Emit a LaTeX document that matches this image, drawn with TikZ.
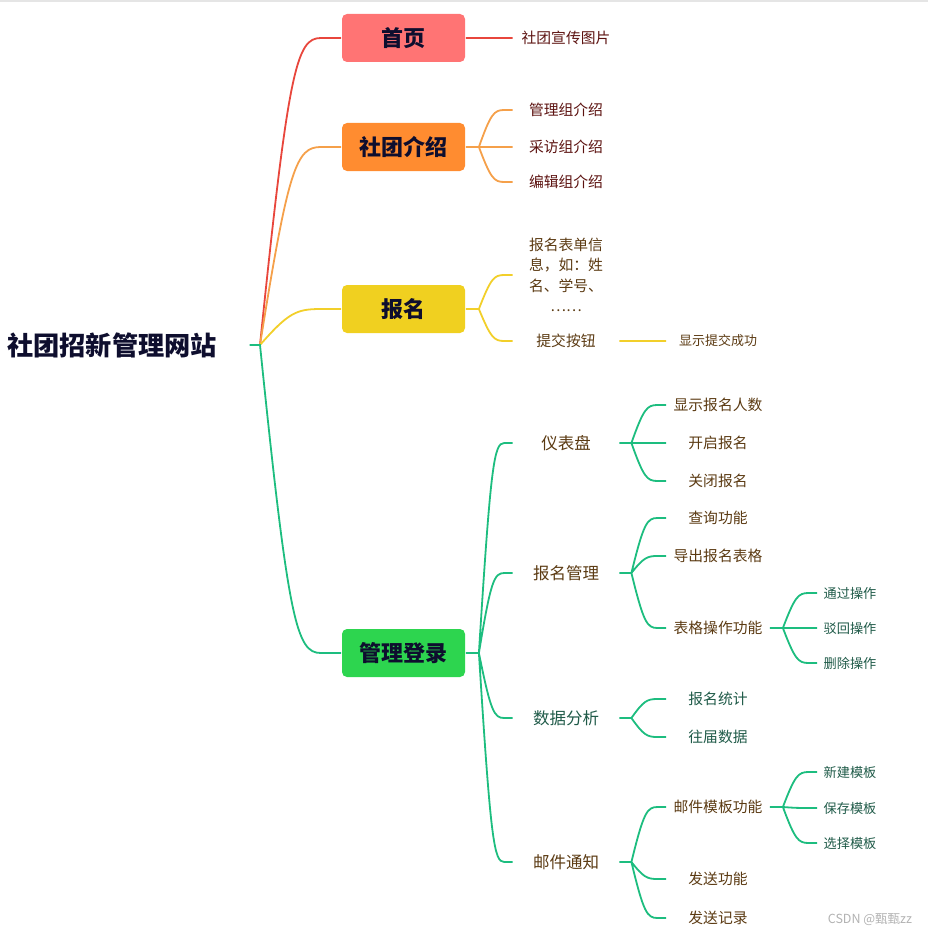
\documentclass[tikz,border=0pt]{standalone}
\usepackage{fontspec}
\setmainfont{Noto Sans CJK SC}
\usetikzlibrary{calc}
\definecolor{redline}{HTML}{E8463C}
\definecolor{homefill}{HTML}{FF7474}
\definecolor{orangeline}{HTML}{F5A04A}
\definecolor{introfill}{HTML}{FF8C30}
\definecolor{yellowline}{HTML}{F2CF2A}
\definecolor{signfill}{HTML}{F0D020}
\definecolor{greenline}{HTML}{1DBD7F}
\definecolor{adminfill}{HTML}{2DD54F}
\definecolor{ink}{HTML}{0E0E2E}
\definecolor{maroon}{HTML}{5C1210}
\definecolor{brown}{HTML}{5B3A12}
\definecolor{teal}{HTML}{1F5A48}
\begin{document}
\begin{tikzpicture}[x=1pt, y=-1pt, line width=1.8pt]
\useasboundingbox (0,0) rectangle (928,939);
\draw[line width=2pt, black!10] (0,1) -- (928,1);
\tikzstyle{topic} = [rounded corners=5pt, minimum width=123pt, minimum height=48pt, text=ink, font=\bfseries\fontsize{22}{24}\selectfont]
\tikzstyle{leaf} = [minimum width=105pt, inner sep=0pt, font=\fontsize{14.8}{20.3}\selectfont]
\tikzstyle{sub} = [leaf, font=\fontsize{16.5}{20}\selectfont]
\tikzstyle{twig} = [minimum width=102pt, inner sep=0pt, font=\fontsize{14.8}{20}\selectfont]
\tikzstyle{bud} = [minimum width=64pt, inner sep=0pt, font=\fontsize{13.2}{16}\selectfont, text=teal]
\tikzstyle{limb} = [to path={let \p1=(\tikztostart), \p2=(\tikztotarget) in
  .. controls ({\x1+0.35*(\x2-\x1)},{\y2+0.1*(\y1-\y2)}) and ({\x1+0.45*(\x2-\x1)},\y2) .. ({\x1+0.75*(\x2-\x1)},\y2) -- (\p2)}]
% root and main topics
\node[inner xsep=32pt, text=ink, font=\bfseries\fontsize{26.2}{28}\selectfont] (root) at (112,345) {社团招新管理网站};
\node[topic, fill=homefill] (home) at (403.5,38) {首页};
\node[topic, fill=introfill] (intro) at (403.5,147) {社团介绍};
\node[topic, fill=signfill] (sign) at (403.5,309) {报名};
\node[topic, fill=adminfill] (admin) at (403.5,653) {管理登录};
% first level leaves
\node[leaf, text=maroon] (pic) at (566,38) {社团宣传图片};
\node[leaf, text=maroon] (g1) at (566,110) {管理组介绍};
\node[leaf, text=maroon] (g2) at (566,147) {采访组介绍};
\node[leaf, text=maroon] (g3) at (566,182) {编辑组介绍};
\node[leaf, text=brown, align=center] (form) at (566,275) {报名表单信\\息，如：姓\\名、学号、\\……};
\node[leaf, text=brown] (submit) at (566,341) {提交按钮};
\node[twig, text=brown, font=\fontsize{13}{16}\selectfont] (done) at (718,341) {显示提交成功};
\node[sub, text=brown] (dash) at (566,443) {仪表盘};
\node[sub, text=brown] (manage) at (566,573) {报名管理};
\node[sub, text=teal] (stats) at (566,718) {数据分析};
\node[sub, text=brown] (mail) at (566,862) {邮件通知};
% second level
\node[twig, text=brown] (count) at (718,405) {显示报名人数};
\node[twig, text=brown] (open) at (718,443) {开启报名};
\node[twig, text=brown] (close) at (718,481) {关闭报名};
\node[twig, text=brown] (query) at (718,518) {查询功能};
\node[twig, text=brown] (export) at (718,556) {导出报名表格};
\node[twig, text=brown] (table) at (718,628) {表格操作功能};
\node[twig, text=teal] (tally) at (718,699) {报名统计};
\node[twig, text=teal] (past) at (718,737) {往届数据};
\node[twig, text=brown] (tmpl) at (718,807) {邮件模板功能};
\node[twig, text=brown] (send) at (718,879) {发送功能};
\node[twig, text=brown] (log) at (718,918) {发送记录};
\node[bud] (pass) at (850,593) {通过操作};
\node[bud] (reject) at (850,628) {驳回操作};
\node[bud] (del) at (850,663) {删除操作};
\node[bud] (new) at (850,772) {新建模板};
\node[bud] (save) at (850,808) {保存模板};
\node[bud] (pick) at (850,843) {选择模板};
\node[text=black!30, font=\fontsize{12.5}{14}\selectfont] (mark) at (870,920) {CSDN @甄甄zz};
% connectors
\coordinate (rf) at (260,345);
\draw[redline] (rf) to[limb] (home.west) (home.east) -- (pic.west);
\draw[orangeline] (rf) to[limb] (intro.west);
\draw[orangeline] (intro.east) -- ++(13,0) coordinate (if) to[limb] (g1.west) (if) to[limb] (g2.west) (if) to[limb] (g3.west);
\draw[yellowline] (rf) to[limb] (sign.west);
\draw[yellowline] (sign.east) -- ++(13,0) coordinate (sf) to[limb] (form.west) (sf) to[limb] (submit.west) (submit.east) -- (done.west);
\draw[greenline] (root.east) -- (rf) to[limb] (admin.west);
\draw[greenline] (admin.east) -- ++(13,0) coordinate (af) to[limb] (dash.west) (af) to[limb] (manage.west) (af) to[limb] (stats.west) (af) to[limb] (mail.west);
\draw[greenline] (dash.east) -- ++(12,0) coordinate (df) to[limb] (count.west) (df) to[limb] (open.west) (df) to[limb] (close.west);
\draw[greenline] (manage.east) -- ++(12,0) coordinate (mf) to[limb] (query.west) (mf) to[limb] (export.west) (mf) to[limb] (table.west);
\draw[greenline] (table.east) -- ++(13,0) coordinate (tf) to[limb] (pass.west) (tf) to[limb] (reject.west) (tf) to[limb] (del.west);
\draw[greenline] (stats.east) -- ++(12,0) coordinate (sf) to[limb] (tally.west) (sf) to[limb] (past.west);
\draw[greenline] (mail.east) -- ++(12,0) coordinate (nf) to[limb] (tmpl.west) (nf) to[limb] (send.west) (nf) to[limb] (log.west);
\draw[greenline] (tmpl.east) -- ++(13,0) coordinate (pf) to[limb] (new.west) (pf) to[limb] (save.west) (pf) to[limb] (pick.west);
\end{tikzpicture}
\end{document}
